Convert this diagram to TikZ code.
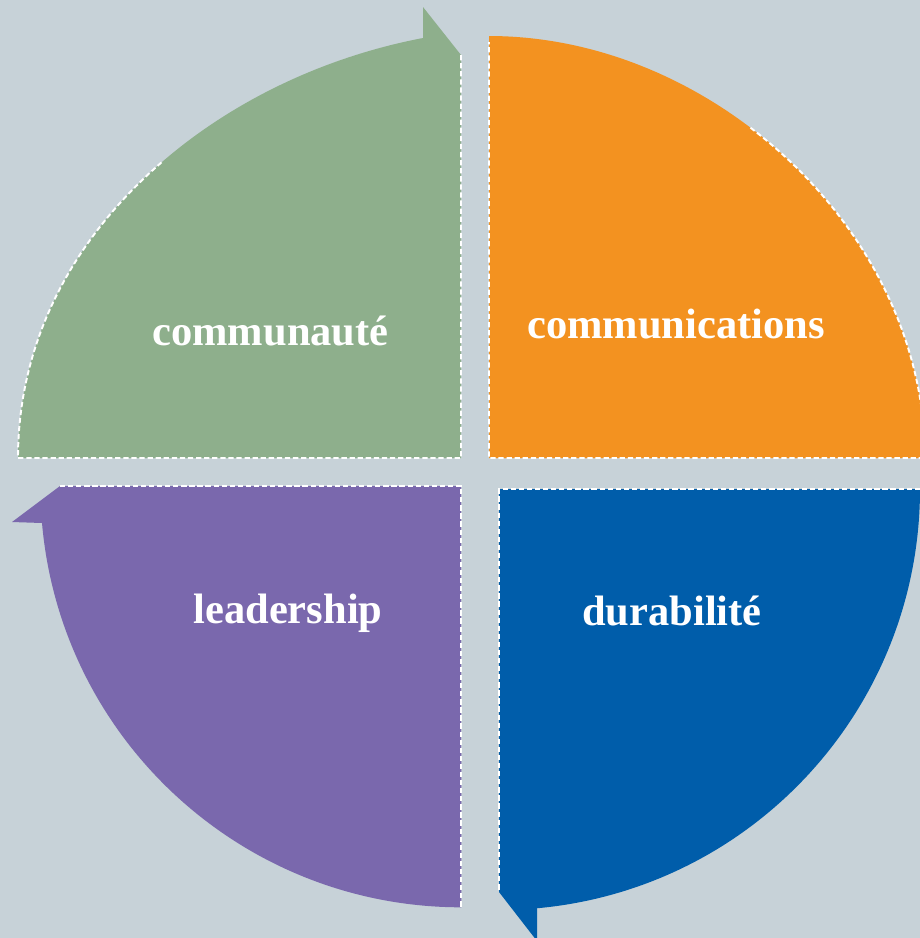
\documentclass[tikz,border=0pt]{standalone}
\usepackage{fontspec}
\setmainfont{Liberation Serif}
\definecolor{backdrop}{HTML}{C7D2D8}
\definecolor{sage}{HTML}{8EAF8C}
\definecolor{tangerine}{HTML}{F39220}
\definecolor{cobalt}{HTML}{005DAA}
\definecolor{lavender}{HTML}{7A68AD}

\begin{document}
\begin{tikzpicture}[x=0.02cm, y=0.02cm,
		seam/.style={draw=white, line width=1.1pt, dash pattern=on 3pt off 1.6pt},
		caption/.style={text=white, inner sep=0pt, anchor=base,
			font=\bfseries\fontsize{24.2pt}{29pt}\selectfont}]
		%%%%% START %%%%%
		
		\useasboundingbox (0, 0) rectangle (920, -938);
		\fill[backdrop] (0, 0) rectangle (920, -938);
		\clip (0, 0) rectangle (920, -938);
		
		% upper left, arrow at the top
		\fill[sage] (461, -458) -- (18, -458) .. controls (18, -242) and (208, -79) .. (423, -38)
			-- (423, -7) -- (461, -55) -- cycle;
		\draw[seam] (461, -55) -- (461, -458) -- (18, -458)
			.. controls (18, -338.75) and (75.5, -236.2) .. (163, -161.1);
		
		% upper right
		\fill[tangerine] (489, -458) -- (489, -36) .. controls (714, -36) and (925, -233) .. (925, -458) -- cycle;
		\draw[seam] (750.5, -127.7) .. controls (854, -206.4) and (925, -327.5) .. (925, -458)
			-- (489, -458) -- (489, -42);
		
		% lower right, arrow at the bottom
		\fill[cobalt] (499, -489) -- (920, -489) arc (0:-84.8:421) -- (537, -941) -- (499, -892) -- cycle;
		\draw[seam] (920, -489) -- (499, -489) -- (499, -892);
		
		% lower left, arrow at the left
		\fill[lavender] (461, -486) -- (60, -486) -- (12, -522) -- (42, -523) arc (185:270:421) -- cycle;
		\draw[seam] (60, -486) -- (461, -486) -- (461, -907);
		
		\node[caption] (communaute) at (270.5, -345) {communauté};
		\node[caption] (communications) at (676, -338) {communications};
		\node[caption] (leadership) at (288, -623) {leadership};
		\node[caption] (durabilite) at (672, -625) {durabilité};
		
		%%%%% END %%%%%
	\end{tikzpicture}
\end{document}
